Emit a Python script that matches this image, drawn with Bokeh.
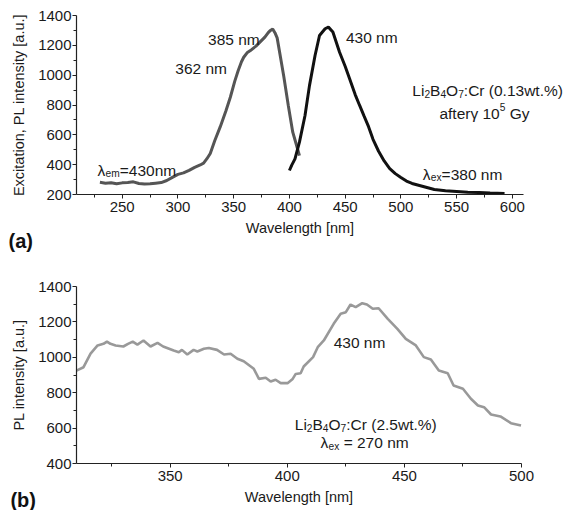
from bokeh.plotting import figure
from bokeh.models import Range1d, FixedTicker, Label, LinearAxis
from bokeh.layouts import column
from bokeh.embed import file_html
from bokeh.resources import INLINE

# ---------------- data: panel (a) ----------------
exc_x = [230, 235, 240, 245, 250, 255, 260, 265, 270, 275, 280, 285, 290, 295, 300,
         305, 310, 315, 320, 323, 326, 329, 333, 338, 343, 347, 351, 354, 357, 359,
         362, 365, 370, 374, 378, 381, 383, 385, 387, 389, 392, 395, 399, 403, 406, 409]
exc_y = [282, 276, 279, 272, 278, 280, 285, 274, 270, 272, 276, 280, 294, 315, 335,
         345, 362, 382, 398, 410, 440, 475, 560, 655, 760, 852, 960, 1030, 1090, 1120,
         1150, 1165, 1195, 1225, 1255, 1285, 1300, 1310, 1285, 1250, 1120, 990, 797, 618, 540, 461]

em_x = [400, 402, 405, 409, 414, 418, 423, 427, 432, 435, 439, 445, 450, 454, 459,
        463, 467, 471, 475, 480, 485, 490, 495, 500, 505, 510, 520, 530, 540, 550,
        560, 570, 580, 593]
em_y = [361, 395, 439, 551, 730, 930, 1132, 1266, 1311, 1322, 1290, 1154, 1060, 976, 870,
        797, 725, 655, 570, 490, 425, 374, 340, 314, 290, 274, 254, 234, 225, 220,
        215, 214, 210, 207]

# ---------------- data: panel (b) ----------------
pl_x = [310, 313, 316, 319, 321.5, 323, 324.5, 326.7, 330, 332, 334, 336, 338.6, 341.6,
        344.6, 347, 351.5, 353.7, 355, 357.3, 360, 361.6, 364.4, 366.5, 370, 373, 375.8,
        378.7, 381.4, 385.7, 387.9, 390.8, 392.9, 395, 397.2, 400.1, 402.3, 403.6, 405.7,
        407, 411, 413, 415.6, 419.8, 422.8, 425, 427, 429.2, 432, 434, 436.5, 439, 442.9,
        447, 450.6, 454.9, 458.3, 461.3, 464.7, 468.5, 471, 475, 478.4, 481.4, 484, 487,
        491, 495.5, 499.8]
pl_y = [925, 944, 1021, 1067, 1076, 1089, 1076, 1067, 1061, 1076, 1089, 1072, 1095, 1061,
        1081, 1061, 1038, 1029, 1042, 1016, 1042, 1033, 1048, 1053, 1042, 1016, 1020,
        992, 978, 935, 878, 884, 863, 873, 854, 854, 878, 906, 910,
        948, 1001, 1057, 1095, 1189, 1246, 1255, 1298, 1283, 1306, 1298, 1274, 1277, 1217,
        1161, 1104, 1067, 1001, 988, 925, 910, 841, 822, 766, 728, 718, 677,
        666, 628, 615]

a_xlim = (209, 610)
a_ylim = (200, 1400)
a_xticks = [250, 300, 350, 400, 450, 500, 550, 600]
a_xminor = [225, 275, 325, 375, 425, 475, 525, 575]
a_yticks = [200, 400, 600, 800, 1000, 1200, 1400]
a_yminor = [300, 500, 700, 900, 1100, 1300]
b_xlim = (310, 500)
b_ylim = (400, 1400)
b_xticks = [350, 400, 450, 500]
b_xminor = [325, 375, 425, 475]
b_yticks = [400, 600, 800, 1000, 1200, 1400]
b_yminor = [500, 700, 900, 1100, 1300]

FONT = "Liberation Sans"
TXT = "#1a1a1a"
ANN = 15.5

W = {' ': 278, '(': 333, ')': 333, '%': 889, '.': 278, ':': 278, '=': 584,
     'B': 667, 'C': 722, 'G': 778, 'L': 556, 'O': 778, 'a': 556, 'e': 556, 'f': 278,
     'i': 222, 'm': 833, 'n': 556, 'r': 333, 't': 278, 'w': 722, 'x': 500, 'y': 500,
     'λ': 520, 'γ': 500}


def tw(s, size):
    return sum(W.get(c, 556) for c in s) * size / 1000.0


def rich(p, runs, x, y, size=ANN, align="left"):
    sub = size * 0.66
    sizes = [size if k == "n" else sub for _, k in runs]
    total = sum(tw(t, s) for (t, _), s in zip(runs, sizes))
    off = 0 if align == "left" else -total / 2
    for (t, k), s in zip(runs, sizes):
        yo = -5.5 if k == "n" else (-9 if k == "sub" else 1.5)
        lead = len(t) - len(t.lstrip(" "))
        off += tw(" " * lead, s)
        body = t.lstrip(" ")
        p.add_layout(Label(x=x, y=y, x_offset=off, y_offset=yo, text=body.rstrip(" "),
                           text_font=FONT, text_font_size=f"{s:.1f}px",
                           text_color=TXT, text_baseline="alphabetic",
                           text_align="left"))
        off += tw(body, s)


def make_fig(W_px, H_px, xlim, ylim, frame, xt, xm, yt, ym, ylabel):
    # frame = (left, right, top, bottom) pixel positions of the axes box
    l, r, t, b = frame
    kx = (xlim[1] - xlim[0]) / (r - l)
    ky = (ylim[1] - ylim[0]) / (b - t)
    xr = Range1d(xlim[0] - l * kx, xlim[1] + (W_px - r) * kx)
    yr = Range1d(ylim[0] - (H_px - b) * ky, ylim[1] + t * ky)
    p = figure(width=W_px, height=H_px, output_backend="svg", toolbar_location=None,
               x_range=xr, y_range=yr, x_axis_location=None, y_axis_location=None,
               min_border=0)
    p.outline_line_color = None
    p.background_fill_color = "white"
    p.border_fill_color = "white"
    xa = LinearAxis(fixed_location=ylim[0], bounds=xlim,
                    ticker=FixedTicker(ticks=xt, minor_ticks=xm))
    ya = LinearAxis(fixed_location=xlim[0], bounds=ylim,
                    ticker=FixedTicker(ticks=yt, minor_ticks=ym))
    for ax in (xa, ya):
        ax.axis_line_color = "#222222"
        ax.axis_line_width = 1.2
        ax.major_tick_line_color = "#222222"
        ax.minor_tick_line_color = "#222222"
        ax.major_tick_in = 0
        ax.major_tick_out = 4
        ax.minor_tick_in = 0
        ax.minor_tick_out = 3
        ax.major_label_text_font = FONT
        ax.major_label_text_font_size = "15px"
        ax.major_label_text_color = TXT
        ax.axis_label_text_font = FONT
        ax.axis_label_text_font_size = "14.5px"
        ax.axis_label_text_font_style = "normal"
        ax.axis_label_text_color = TXT
    xa.major_label_standoff = 3
    xa.axis_label_standoff = 5
    ya.major_label_standoff = 1
    ya.axis_label_standoff = 8
    xa.axis_label = "Wavelength [nm]"
    ya.axis_label = ylabel
    p.add_layout(xa, "below")
    p.add_layout(ya, "left")
    p.xgrid.visible = False
    p.ygrid.visible = False
    return p


# ---------------- panel (a) ----------------
pa = make_fig(573, 257, a_xlim, a_ylim, (76, 523, 15, 194),
              a_xticks, a_xminor, a_yticks, a_yminor, "Excitation, PL intensity [a.u.]")
pa.line(exc_x, exc_y, line_color="#555555", line_width=3)
pa.line(em_x, em_y, line_color="#111111", line_width=3)

rich(pa, [("385 nm", "n")], 327, 1279)
rich(pa, [("362 nm", "n")], 297.6, 1080)
rich(pa, [("λ", "n"), ("em", "sub"), ("=430nm", "n")], 227.8, 401)
rich(pa, [("430 nm", "n")], 450.7, 1290)
rich(pa, [("Li", "n"), ("2", "sub"), ("B", "n"), ("4", "sub"), ("O", "n"), ("7", "sub"),
          (":Cr (0.13wt.%)", "n")], 577.8, 931, align="center")
rich(pa, [("afterγ 10", "n"), ("5", "sup"), (" Gy", "n")], 575, 777, align="center")
rich(pa, [("λ", "n"), ("ex", "sub"), ("=380 nm", "n")], 519.6, 374)
pa.add_layout(Label(x=148, y=-115, text="(a)", text_font=FONT, text_font_size="20px",
                    text_font_style="bold", text_color="#111111", text_baseline="middle"))

# ---------------- panel (b) ----------------
pb = make_fig(573, 253, b_xlim, b_ylim, (76, 521, 29, 206),
              b_xticks, b_xminor, b_yticks, b_yminor, "PL intensity [a.u.]")
pb.line(pl_x, pl_y, line_color="#999999", line_width=2.6)

rich(pb, [("430 nm", "n")], 419.8, 1112)
rich(pb, [("Li", "n"), ("2", "sub"), ("B", "n"), ("4", "sub"), ("O", "n"), ("7", "sub"),
          (":Cr (2.5wt.%)", "n")], 433.5, 652, align="center")
rich(pb, [("λ", "n"), ("ex", "sub"), (" = 270 nm", "n")], 433, 549, align="center")
pb.add_layout(Label(x=281.8, y=196, text="(b)", text_font=FONT, text_font_size="20px",
                    text_font_style="bold", text_color="#111111", text_baseline="middle"))

layout = column(pa, pb, spacing=0)
open("out.html", "w").write(file_html(layout, INLINE))
